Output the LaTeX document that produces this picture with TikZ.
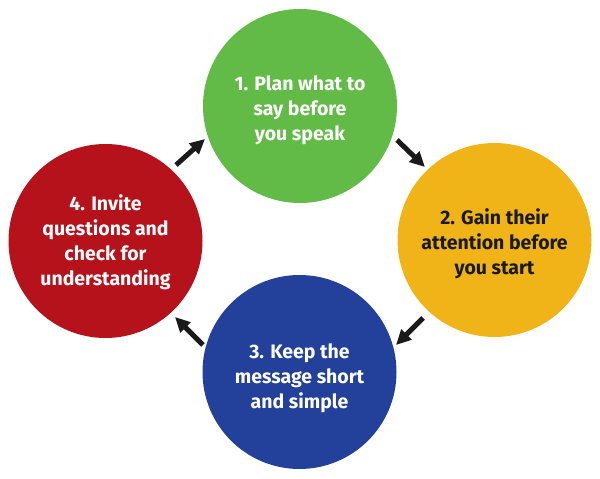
\documentclass[tikz,border=0pt]{standalone}
\usepackage{fontspec}
\setmainfont{Fira Sans}
\usetikzlibrary{arrows.meta,calc}
\definecolor{cgreen}{HTML}{62BB46}
\definecolor{cyellow}{HTML}{F0B418}
\definecolor{cblue}{HTML}{23409A}
\definecolor{cred}{HTML}{B5121B}
\definecolor{ctext}{HTML}{1A1A1A}
\begin{document}
\begin{tikzpicture}[x=1pt,y=1pt,
  stepcircle/.style={circle, minimum size=194pt, inner sep=0pt},
  steptext/.style={inner sep=0pt, align=center,
    font=\fontsize{19.5}{25}\selectfont\bfseries},
  flowarrow/.style={line width=5pt, draw=ctext, -{Triangle[length=15pt,width=14pt]}}]
\useasboundingbox (0,0) rectangle (600,479);
\node[stepcircle, fill=cgreen] (green) at (300,373) {};
\node[stepcircle, fill=cyellow] (yellow) at (494.5,239) {};
\node[stepcircle, fill=cblue] (blue) at (299.5,107) {};
\node[stepcircle, fill=cred] (red) at (105.5,238) {};
\node[steptext, text=white] (greent) at ($(green)+(0,-4)$) {1. Plan what to\\say before\\you speak};
\node[steptext, text=ctext] (yellowt) at ($(yellow)+(0,-4)$) {2. Gain their\\attention before\\you start};
\node[steptext, text=white] (bluet) at ($(blue)+(0,-6)$) {3. Keep the\\message short\\and simple};
\node[steptext, text=white] (redt) at ($(red)+(0,-1)$) {4. Invite\\questions and\\check for\\understanding};
\coordinate (a1s) at (176,314); \coordinate (a1e) at (205,340);
\coordinate (a2s) at (397,339); \coordinate (a2e) at (425,312);
\coordinate (a3s) at (423,161); \coordinate (a3e) at (396,134);
\coordinate (a4s) at (203,134); \coordinate (a4e) at (175,162);
\draw[flowarrow] (a1s) -- (a1e);
\draw[flowarrow] (a2s) -- (a2e);
\draw[flowarrow] (a3s) -- (a3e);
\draw[flowarrow] (a4s) -- (a4e);
\end{tikzpicture}
\end{document}
